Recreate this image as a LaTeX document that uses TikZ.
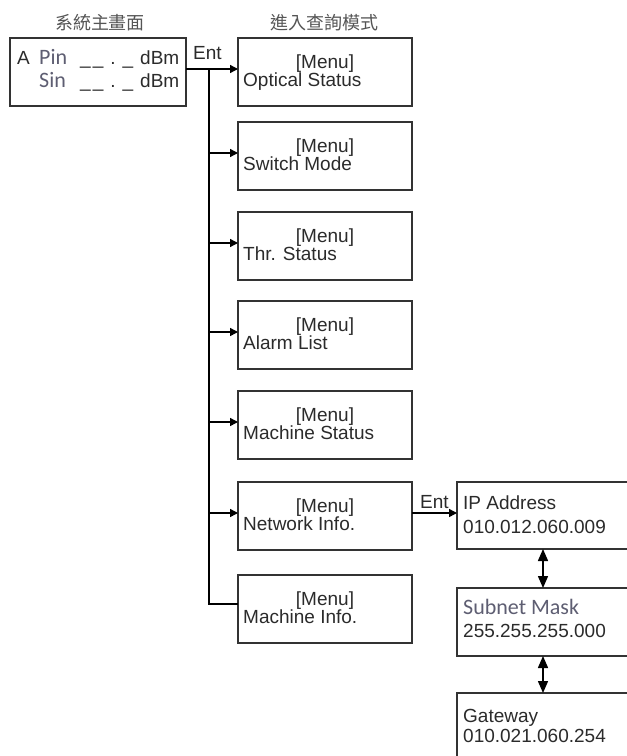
\documentclass[tikz,border=0pt]{standalone}
\usepackage{fontspec}
\setmainfont{Liberation Sans}
\newfontfamily\calib{Carlito}
\newfontfamily\cjk{Noto Sans CJK TC}
\usetikzlibrary{arrows.meta,calc}
\definecolor{txt}{HTML}{2B2B2B}
\definecolor{soft}{HTML}{5E5E72}
\definecolor{cjkc}{HTML}{555555}
\begin{document}
\begin{tikzpicture}[x=1pt,y=-1pt,
  box/.style={draw=black!80, line width=1.6pt, minimum width=174pt, minimum height=68pt,
    anchor=north west, inner sep=0pt, outer sep=0pt},
  lbl/.style={anchor=base west, inner sep=0pt, text=txt, font=\fontsize{19}{19}\selectfont},
  mlbl/.style={anchor=base, inner sep=0pt, text=txt, font=\fontsize{19}{19}\selectfont},
  slbl/.style={anchor=base west, inner sep=0pt, text=soft, font=\calib\fontsize{22}{22}\selectfont},
  ttl/.style={anchor=center, inner sep=0pt, text=cjkc, font=\cjk\fontsize{18}{18}\selectfont},
  arr/.style={-{Triangle[length=8pt,width=8pt]}, line width=1.4pt},
  dbl/.style={{Triangle[length=12pt,width=10pt]}-{Triangle[length=12pt,width=10pt]}, line width=1.5pt}]
\useasboundingbox (0,0) rectangle (627,756);
\clip (0,0) rectangle (627,756);
\fill[white] (0,0) rectangle (627,756);

% titles
\node[ttl] (t1) at (100,23) {系統主畫面};
\node[ttl] (t2) at (324,23) {進入查詢模式};

% main display box
\node[box, minimum width=176pt] (main) at (10,38) {};
\node[lbl] (ma) at (17,64) {A};
\node[slbl] (pin) at (39,64) {Pin};
\node[lbl] (u1) at (80,64) {\_\kern2pt\_\kern7pt.\kern7pt\_};
\node[lbl] (d1) at (140,64) {dBm};
\node[slbl] (sin) at (39,87) {Sin};
\node[lbl] (u2) at (80,87) {\_\kern2pt\_\kern7pt.\kern7pt\_};
\node[lbl] (d2) at (140,87) {dBm};

% menu boxes
\foreach \n/\t/\s in {1/38/Optical Status, 2/122/Switch Mode, 3/212/Thr. Status,
                     4/301/Alarm List, 5/391/Machine Status, 6/482/Network Info.,
                     7/575/Machine Info.}{
  \node[box] (m\n) at (238,\t) {};
  \node[mlbl] (m\n a) at ($(m\n.north)+(0,30)$) {[Menu]};
  \node[lbl] (m\n b) at ($(m\n.north west)+(5,48)$) {\s};
}

% network boxes
\node[box, minimum width=172pt, minimum height=67pt] (ip) at (457,482) {};
\node[lbl] (ipa) at (463,509) {IP Address};
\node[lbl] (ipb) at (463,533) {010.012.060.009};
\node[box, minimum width=172pt] (sub) at (457,588) {};
\node[slbl] (suba) at (463,614) {Subnet Mask};
\node[lbl] (subb) at (463,637) {255.255.255.000};
\node[box, minimum width=172pt, minimum height=72pt] (gw) at (457,693) {};
\node[lbl] (gwa) at (463,722) {Gateway};
\node[lbl] (gwb) at (463,742) {010.021.060.254};

% Ent labels
\node[lbl] (ent1) at (193,59) {Ent};
\node[lbl] (ent2) at (420,508) {Ent};

% connectors
\path ([yshift=3pt]main.east) coordinate (s0);
\path ([yshift=3pt]m1.west) coordinate (e1);
\draw[arr] (s0) -- (e1);
\coordinate (bt) at (209,69);
\path ([yshift=5pt]m7.west) coordinate (e7);
\draw[line width=1.4pt] (bt) |- (e7);
\foreach \n in {2,3,4,5,6}{
  \path ([yshift=3pt]m\n.west) coordinate (e\n);
  \draw[arr] (bt |- e\n) -- (e\n);
}
\path ([yshift=3pt]m6.east) coordinate (n0);
\draw[arr] (n0) -- (ip.west |- n0);
\draw[dbl] (ip.south) -- (sub.north);
\draw[dbl] (sub.south) -- (gw.north);
\end{tikzpicture}
\end{document}
